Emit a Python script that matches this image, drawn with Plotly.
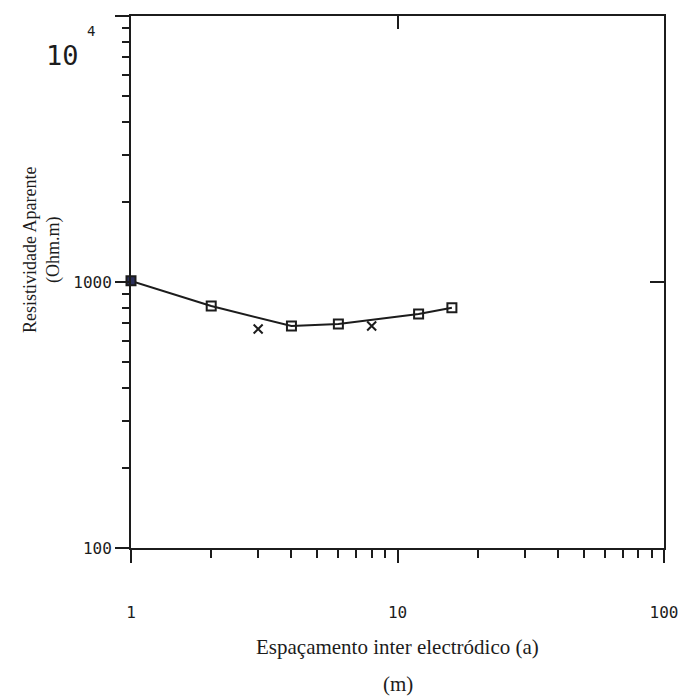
import plotly.graph_objects as go

# Data
spacing_sq = [1, 2, 4, 6, 12, 16]
rho_sq = [1010, 812, 683, 695, 758, 800]
spacing_x = [3, 8]
rho_x = [666, 683]

x_tickvals = [1, 10, 100]
x_ticktext = ["1", "10", "100"]
y_tickvals = [100, 1000, 10000]
y_ticktext = ["100", "1000", ""]
minor_x = [2, 3, 4, 5, 6, 7, 8, 9, 20, 30, 40, 50, 60, 70, 80, 90]
minor_y = [200, 300, 400, 500, 600, 700, 800, 900, 2000, 3000, 4000, 5000, 6000, 7000, 8000, 9000]

INK = "#1c1c1c"
NAVY = "#2b2f5a"
MONO = "DejaVu Sans Mono"
SERIF = "Liberation Serif"

fig = go.Figure()

fig.add_trace(go.Scatter(
    x=spacing_sq, y=rho_sq, mode="lines+markers",
    line=dict(color=INK, width=2),
    marker=dict(symbol=["square"] + ["square-open"] * (len(spacing_sq) - 1),
                size=9, color=[NAVY] + [INK] * (len(spacing_sq) - 1),
                line=dict(width=2)),
    cliponaxis=False, showlegend=False))

fig.add_trace(go.Scatter(
    x=spacing_x, y=rho_x, mode="markers",
    marker=dict(symbol="x-thin-open", size=9, color=INK, line=dict(width=2, color=INK)),
    cliponaxis=False, showlegend=False))

# invisible trace to carry the secondary (top/right) axes
fig.add_trace(go.Scatter(x=[10], y=[1000], xaxis="x2", yaxis="y2",
                         mode="markers", marker=dict(opacity=0), showlegend=False,
                         hoverinfo="skip"))

fig.update_layout(
    width=693, height=700,
    margin=dict(l=131, r=29, t=16, b=152),
    paper_bgcolor="white", plot_bgcolor="white",
    xaxis=dict(type="log", range=[0, 2], tickmode="array",
               tickvals=x_tickvals, ticktext=x_ticktext,
               ticks="outside", ticklen=13, tickwidth=2, tickcolor=INK,
               minor=dict(tickmode="array", tickvals=minor_x, ticks="outside",
                          ticklen=8, tickwidth=2, tickcolor=INK, showgrid=False),
               showline=True, linewidth=2, linecolor=INK, mirror=True,
               showgrid=False, zeroline=False,
               tickfont=dict(family=MONO, size=16, color=INK),
               ticklabelstandoff=36),
    yaxis=dict(type="log", range=[2, 4], tickmode="array",
               tickvals=y_tickvals, ticktext=y_ticktext,
               ticks="outside", ticklen=14, tickwidth=2, tickcolor=INK,
               minor=dict(tickmode="array", tickvals=minor_y, ticks="outside",
                          ticklen=7, tickwidth=2, tickcolor=INK, showgrid=False),
               showline=True, linewidth=2, linecolor=INK, mirror=True,
               showgrid=False, zeroline=False,
               tickfont=dict(family=MONO, size=16, color=INK)),
    xaxis2=dict(type="log", range=[0, 2], overlaying="x", side="top", anchor="y",
                tickmode="array", tickvals=[10], ticks="inside", ticklen=13,
                tickwidth=2, tickcolor=INK, showticklabels=False,
                showline=False, showgrid=False, zeroline=False),
    yaxis2=dict(type="log", range=[2, 4], overlaying="y", side="right", anchor="x",
                tickmode="array", tickvals=[1000], ticks="inside", ticklen=14,
                tickwidth=2, tickcolor=INK, showticklabels=False,
                showline=False, showgrid=False, zeroline=False),
    annotations=[
        dict(text="10", xref="paper", yref="paper",
             x=-0.128, y=0.925, showarrow=False, xanchor="center", yanchor="middle",
             font=dict(family=MONO, size=27, color=INK)),
        dict(text="4", xref="paper", yref="paper",
             x=-0.075, y=0.972, showarrow=False, xanchor="center", yanchor="middle",
             font=dict(family=MONO, size=14, color=INK)),
        dict(text="Resistividade Aparente<br>(Ohm.m)", xref="paper", yref="paper",
             x=-0.212, y=0.56, textangle=-90, showarrow=False,
             font=dict(family=SERIF, size=18, color=INK)),
        dict(text="Espaçamento inter electródico (a)", xref="paper", yref="paper",
             x=0.5, y=-0.186, showarrow=False, yanchor="middle",
             font=dict(family=SERIF, size=21, color=INK)),
        dict(text="(m)", xref="paper", yref="paper",
             x=0.5, y=-0.256, showarrow=False, yanchor="middle",
             font=dict(family=SERIF, size=21, color=INK)),
    ],
)

fig.write_html("out.html")
